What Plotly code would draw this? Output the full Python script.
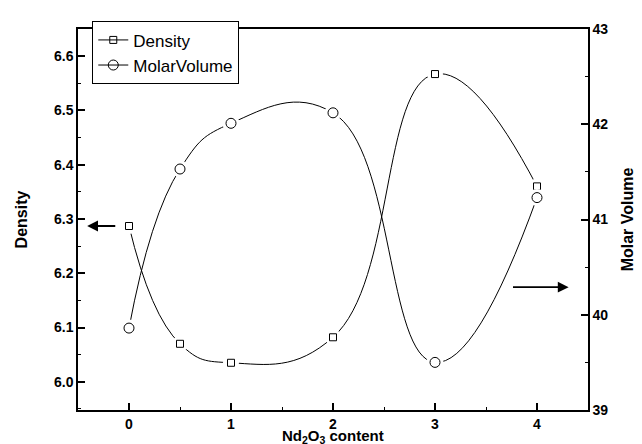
import plotly.graph_objects as go

nd2o3_content = [0, 0.5, 1, 2, 3, 4]
density = [6.287, 6.070, 6.035, 6.082, 6.567, 6.360]
molar_volume = [39.86, 41.53, 42.01, 42.12, 39.50, 41.23]

FONT = "Arial, Liberation Sans, sans-serif"

fig = go.Figure()

def add_series(y, name, symbol, size, mask_size, yaxis):
    fig.add_trace(go.Scatter(
        x=nd2o3_content, y=y, name=name, yaxis=yaxis,
        mode="lines+markers",
        line=dict(color="black", width=1, shape="spline", smoothing=1.3),
        marker=dict(symbol=symbol, size=size, color="black",
                    line=dict(color="black", width=1)),
        showlegend=True,
    ))
    fig.add_trace(go.Scatter(
        x=nd2o3_content, y=y, yaxis=yaxis, mode="markers",
        marker=dict(symbol="circle", size=mask_size, color="white",
                    line=dict(width=0)),
        showlegend=False, hoverinfo="skip",
    ))
    fig.add_trace(go.Scatter(
        x=nd2o3_content, y=y, yaxis=yaxis, mode="markers",
        marker=dict(symbol=symbol, size=size, color="black",
                    line=dict(color="black", width=1)),
        showlegend=False, hoverinfo="skip",
    ))

add_series(density, "Density", "square-open", 7, 16, "y")
add_series(molar_volume, "MolarVolume", "circle-open", 10, 17, "y2")

axis_common = dict(
    showline=True, linecolor="black", linewidth=1.5,
    ticks="inside", ticklen=7, tickwidth=1.5, tickcolor="black",
    showgrid=False, zeroline=False,
    tickfont=dict(family=FONT, size=14, color="black", weight="bold"),
)

fig.update_layout(
    width=642, height=444,
    margin=dict(l=70, r=62, t=21, b=42),
    paper_bgcolor="white", plot_bgcolor="white",
    font=dict(family=FONT, color="black"),
    xaxis=dict(
        range=[-0.5, 4.5], tickvals=[0, 1, 2, 3, 4], mirror=True,
        minor=dict(ticks="inside", ticklen=3, dtick=0.5, tick0=0.5, tickcolor="black", tickwidth=1),
        **axis_common,
    ),
    yaxis=dict(
        range=[5.948, 6.65], tick0=6.0, dtick=0.1, tickformat=".1f",
        minor=dict(ticks="inside", ticklen=3, dtick=0.05, tickcolor="black", tickwidth=1),
        title=dict(text="Density", standoff=22,
                   font=dict(family=FONT, size=16, color="black", weight="bold")),
        **axis_common,
    ),
    yaxis2=dict(
        range=[39, 43], tick0=39, dtick=1, overlaying="y", side="right",
        minor=dict(ticks="inside", ticklen=3, dtick=0.5, tickcolor="black", tickwidth=1),
        title=dict(text="Molar Volume", standoff=14,
                   font=dict(family=FONT, size=16, color="black", weight="bold")),
        **axis_common,
    ),
    legend=dict(
        x=0.028, y=1.02, xanchor="left", yanchor="top",
        bgcolor="white", bordercolor="black", borderwidth=1,
        font=dict(family=FONT, size=17, color="black"),
        itemwidth=30, tracegroupgap=0,
    ),
)

# x-axis title as an annotation so it sits fully inside the page
fig.add_annotation(text="Nd<sub>2</sub>O<sub>3</sub> content",
                   xref="paper", yref="paper", x=0.5, y=-0.098,
                   xanchor="center", yanchor="bottom", showarrow=False,
                   borderpad=0,
                   font=dict(family=FONT, size=15, color="black", weight="bold"))

# arrows indicating which axis each series belongs to
fig.add_annotation(x=-0.41, y=density[0], ax=-0.12, ay=density[0],
                   xref="x", yref="y", axref="x", ayref="y",
                   showarrow=True, arrowhead=2, arrowsize=1.2, arrowwidth=1.8,
                   arrowcolor="black", text="")
fig.add_annotation(x=4.31, y=40.29, ax=3.75, ay=40.29,
                   xref="x", yref="y2", axref="x", ayref="y2",
                   showarrow=True, arrowhead=2, arrowsize=1.2, arrowwidth=1.8,
                   arrowcolor="black", text="")

fig.write_html("out.html")
